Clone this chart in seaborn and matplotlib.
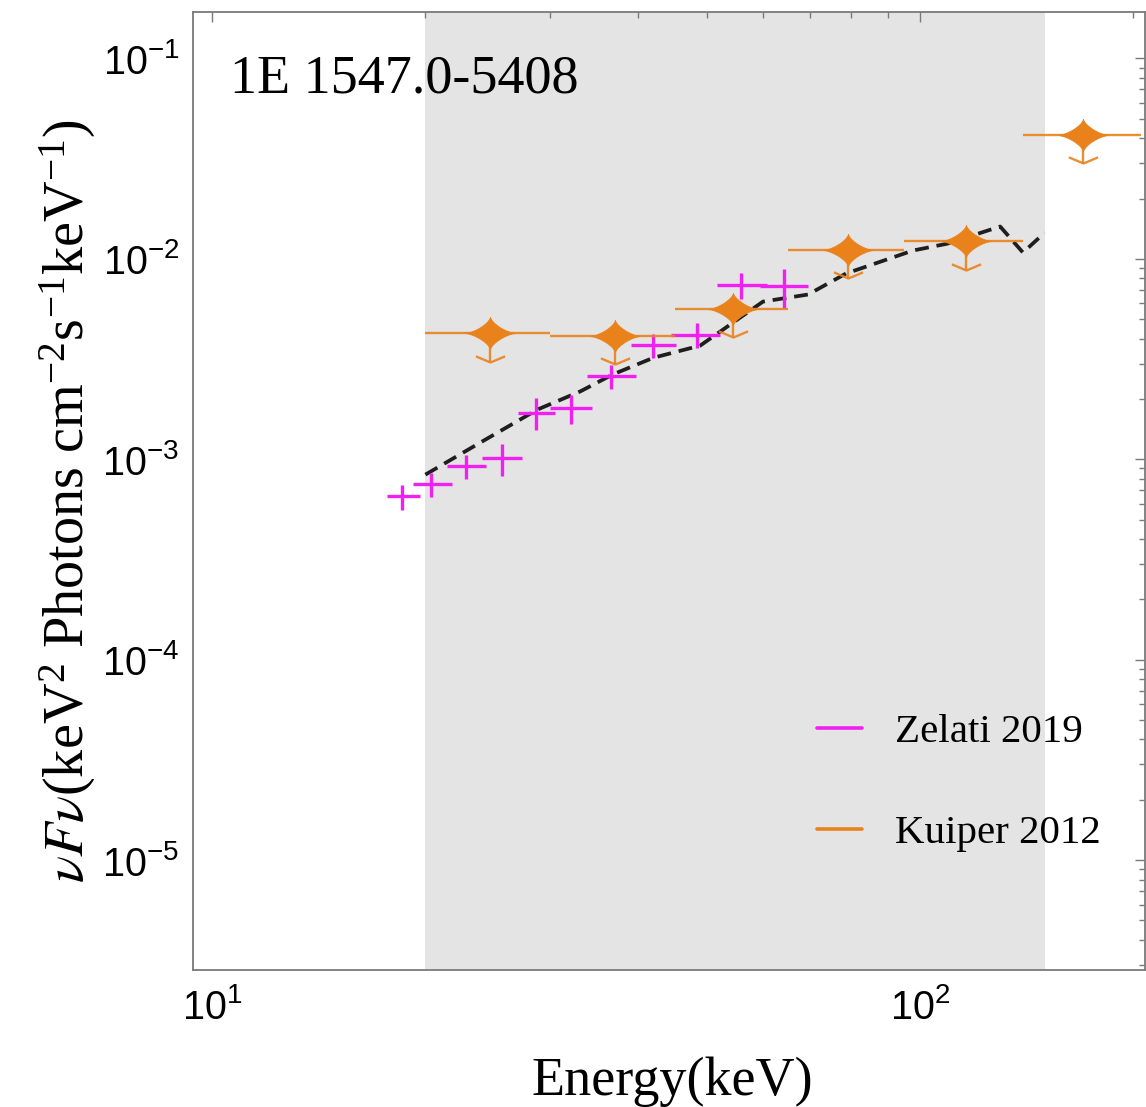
import numpy as np
import pandas as pd
import matplotlib
matplotlib.use("Agg")
import matplotlib.pyplot as plt
from matplotlib.path import Path
from matplotlib.lines import Line2D
import matplotlib.ticker as mticker
import seaborn as sns

# ---------------- data ----------------
# Zelati 2019 (magenta crosses)
zel_e = [18.56, 20.4, 22.8, 25.7, 28.7, 32.1, 36.6, 42.0, 48.4, 55.9, 64.3]
zel_elo = [17.63, 19.23, 21.44, 24.03, 27.06, 30.01, 33.88, 39.02, 44.48, 51.71, 59.40]
zel_ehi = [19.66, 21.80, 24.37, 27.37, 30.50, 34.43, 39.70, 45.20, 52.17, 60.74, 69.52]
zel_flux = [6.53e-4, 7.53e-4, 9.22e-4, 1.01e-3, 1.71e-3, 1.80e-3, 2.60e-3,
            3.71e-3, 4.19e-3, 7.38e-3, 7.30e-3]
zel_ferr = [0.93e-4, 1.04e-4, 1.27e-4, 1.86e-4, 3.15e-4, 2.98e-4, 3.6e-4,
            5.1e-4, 5.8e-4, 1.1e-3, 1.6e-3]

# Kuiper 2012 (orange upper limits)
kui_e = [24.7, 37.1, 54.5, 79.2, 116.0, 170.1]
kui_elo = [20, 30, 45, 65, 95, 140]
kui_ehi = [30, 45, 65, 95, 140, 205]
kui_flux = [4.27e-3, 4.14e-3, 5.63e-3, 1.113e-2, 1.225e-2, 4.17e-2]

# model (dashed)
model_e = [20.0, 23.9, 28.8, 33.1, 36.8, 42.0, 48.9, 60.0, 69.5, 78.6,
           97.7, 109.2, 129.8, 139.8, 150.0]
model_flux = [8.38e-4, 1.21e-3, 1.77e-3, 2.18e-3, 2.65e-3, 3.21e-3, 3.69e-3,
              6.12e-3, 6.64e-3, 8.45e-3, 1.10e-2, 1.19e-2, 1.45e-2, 1.075e-2, 1.35e-2]

band = (20, 150)
source_name = "1E 1547.0-5408"
legend_labels = ["Zelati 2019", "Kuiper 2012"]

# ---------------- style ----------------
sns.set_style("white")
plt.rcParams["font.family"] = ["Liberation Sans", "DejaVu Sans"]
plt.rcParams["mathtext.fontset"] = "custom"
plt.rcParams["mathtext.rm"] = "Liberation Sans"
plt.rcParams["mathtext.it"] = "Liberation Sans:italic"
plt.rcParams["mathtext.bf"] = "Liberation Sans:bold"
plt.rcParams["mathtext.default"] = "regular"
plt.rcParams["text.color"] = "black"
plt.rcParams["axes.labelcolor"] = "black"
plt.rcParams["xtick.labelcolor"] = "black"
plt.rcParams["ytick.labelcolor"] = "black"

MAGENTA = "#F020F0"
ORANGE = "#EA821C"
AXCOL = "#7a7a7a"
SERIF = ["Liberation Serif", "DejaVu Serif"]

fig = plt.figure(figsize=(11.46, 11.07), dpi=100)
ax = fig.add_axes([0.1687, 0.1238, 0.8305, 0.8654])
ax.set_xscale("log")
ax.set_yscale("log")
ax.set_xlim(9.40, 208)
ax.set_ylim(2.83e-6, 0.1706)

ax.axvspan(band[0], band[1], color="#e4e4e4", zorder=0, lw=0)

# model line
df_model = pd.DataFrame({"E": model_e, "F": model_flux})
sns.lineplot(data=df_model, x="E", y="F", ax=ax, color="#1e1e1e", lw=2.7,
             sort=False, estimator=None, zorder=3)
ax.lines[-1].set_linestyle((0, (3.7, 2.1)))

# Zelati crosses
ze = np.array(zel_e)
ax.errorbar(zel_e, zel_flux,
            xerr=[ze - np.array(zel_elo), np.array(zel_ehi) - ze],
            yerr=zel_ferr, fmt="none", ecolor=MAGENTA, elinewidth=2.4,
            capsize=0, zorder=4)

# Kuiper upper limits
ke = np.array(kui_e)
kf = np.array(kui_flux)
ax.errorbar(kui_e, kui_flux,
            xerr=[ke - np.array(kui_elo), np.array(kui_ehi) - ke],
            fmt="none", ecolor=ORANGE, elinewidth=1.7, alpha=0.9, capsize=0,
            zorder=5)
tip = kf * 0.72
ax.vlines(kui_e, tip, kf, color=ORANGE, lw=1.7, alpha=0.9, zorder=5)
chev = Path([(-1, 0.42), (0, 0), (1, 0.42)],
            [Path.MOVETO, Path.LINETO, Path.LINETO])
ax.plot(kui_e, tip, ls="none", marker=chev, ms=21, mfc="none",
        mec=ORANGE, mew=1.7, alpha=0.9, zorder=5)

t = np.linspace(0, 2 * np.pi, 241)
pw = 2.8
sx = np.sign(np.cos(t)) * np.abs(np.cos(t)) ** pw
sy = 0.64 * np.sign(np.sin(t)) * np.abs(np.sin(t)) ** pw
star = Path(np.column_stack([sx, sy]), closed=True)
df_k = pd.DataFrame({"E": kui_e, "F": kui_flux})
sns.scatterplot(data=df_k, x="E", y="F", ax=ax, marker=star, s=36 ** 2,
                color=ORANGE, edgecolor=ORANGE, linewidth=0.6, zorder=6)

# axes styling
for sp in ax.spines.values():
    sp.set_color(AXCOL)
    sp.set_linewidth(1.3)
ax.tick_params(which="both", direction="in", top=True, right=True,
               color=AXCOL, width=1.0)
ax.tick_params(which="major", length=7, labelsize=28.5)
ax.tick_params(which="minor", length=4.5)
ax.tick_params(axis="x", which="major", pad=13)
ax.tick_params(axis="y", which="major", pad=10)
ax.xaxis.set_major_locator(mticker.LogLocator(base=10, numticks=10))
ax.xaxis.set_minor_locator(mticker.LogLocator(base=10, subs=np.arange(2, 10), numticks=20))
ax.yaxis.set_major_locator(mticker.LogLocator(base=10, numticks=12))
ax.yaxis.set_minor_locator(mticker.LogLocator(base=10, subs=np.arange(2, 10), numticks=40))
ax.xaxis.set_minor_formatter(mticker.NullFormatter())
ax.yaxis.set_minor_formatter(mticker.NullFormatter())

ax.set_xlabel("Energy(keV)", fontsize=39, family=SERIF, math_fontfamily="stix")
ax.set_ylabel(r"$\mathit{\nu F\nu}$(keV$^2$ Photons cm$^{-2}$s$^{-1}$keV$^{-1}$)",
              fontsize=40.5, family=SERIF, math_fontfamily="stix")
ax.xaxis.set_label_coords(0.503, -0.09)
ax.yaxis.set_label_coords(-0.100, 0.49)

ax.text(0.0386, 0.9163, source_name, transform=ax.transAxes, fontsize=39,
        family=SERIF, va="baseline", ha="left", zorder=7)

handles = [Line2D([], [], color=MAGENTA, lw=2.6),
           Line2D([], [], color=ORANGE, lw=2.6)]
ax.legend(handles, legend_labels, loc="upper left",
          bbox_to_anchor=(0.655, 0.268), frameon=False, borderpad=0,
          borderaxespad=0, handlelength=1.1, handletextpad=0.8,
          labelspacing=1.55, prop={"family": SERIF, "size": 29.5})

fig.savefig("out.png", dpi=100)
